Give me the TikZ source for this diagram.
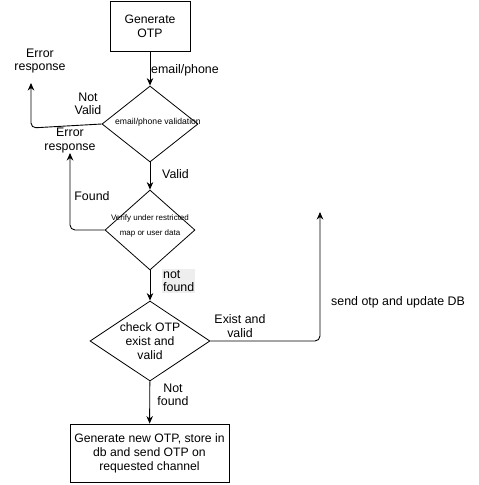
\documentclass[tikz,border=0pt]{standalone}
\usepackage{fontspec}
\setmainfont{Liberation Sans}
\usetikzlibrary{arrows.meta, positioning, shapes.geometric}
\definecolor{labelbg}{HTML}{EEEEEE}

\begin{document}
\begin{tikzpicture}[x=1pt, y=-1pt,
    box/.style={draw, line width=0.8pt, minimum width=#1, align=center, inner sep=0pt, font=\fontsize{12.2}{14}\selectfont},
    decision/.style={draw, diamond, line width=0.8pt, minimum width=#1, minimum height=80pt, inner sep=0pt, align=center},
    lbl/.style={align=center, inner sep=0pt, font=\fontsize{12.4}{13.5}\selectfont},
    arrow/.style={-{Stealth[length=7.5pt, width=6.5pt]}, line width=0.9pt},
    elbow/.style={arrow, rounded corners=5pt}
]
\useasboundingbox (0,0) rectangle (479,485);

% shapes
\node[box=80pt, minimum height=50pt] (gen) at (150,26) {Generate\\OTP};
\node[decision=96pt, minimum height=76pt, font=\fontsize{8.6}{10}\selectfont] (emailchk) at (150,124)
    {\raisebox{0pt}[0pt][0pt]{\makebox[0pt]{\hspace{16pt}email/phone validation}}};
\node[decision=90pt, text height=12pt, font=\fontsize{8}{14.5}\selectfont] (restrict) at (150,230)
    {\makebox[0pt]{Verify under restricted}\\\makebox[0pt]{map or user data}};
\node[decision=120pt, font=\fontsize{12.2}{14}\selectfont] (check) at (150,341)
    {\makebox[0pt]{check OTP}\\\makebox[0pt]{exist and}\\\makebox[0pt]{valid}};
\node[box=159pt, minimum height=58pt] (newotp) at (149.5,453) {Generate new OTP, store in\\db and send OTP on\\requested channel};

% free ends
\coordinate (err1) at (31,83);
\coordinate (err2) at (70,153);
\coordinate (sendup) at (320,212);

% connectors
\draw[arrow] (gen) -- (emailchk);
\draw[elbow] (emailchk.west) -- ([yshift=-4pt]emailchk.west -| err1) -- (err1);
\draw[arrow] (emailchk) -- (restrict);
\draw[elbow] (restrict.west) -| (err2);
\draw[arrow] (restrict) -- (check);
\draw[elbow] (check.east) -| (sendup);
\draw[arrow] (check) -- (newotp);

% labels
\node[lbl, anchor=west] (lblemail) at (151,70) {email/phone};
\node[lbl] (lblerr1) at (40,61) {Error\\response};
\node[lbl] (lblnotvalid) at (88,104) {Not\\Valid};
\node[lbl] (lblerr2) at (70,140.5) {Error\\response};
\node[lbl, anchor=west] (lblvalid) at (162,174) {Valid};
\node[lbl] (lblfound) at (92,196) {Found};
\node[lbl, anchor=west, align=left, fill=labelbg, inner sep=1pt] (lblnotfound1) at (162,281) {not\\found};
\node[lbl] (lblexist) at (240,326) {Exist and\\valid};
\node[lbl, anchor=west] (lblsend) at (331,302) {send otp and update DB};
\node[lbl] (lblnotfound2) at (173,395) {Not\\found};
\end{tikzpicture}
\end{document}
